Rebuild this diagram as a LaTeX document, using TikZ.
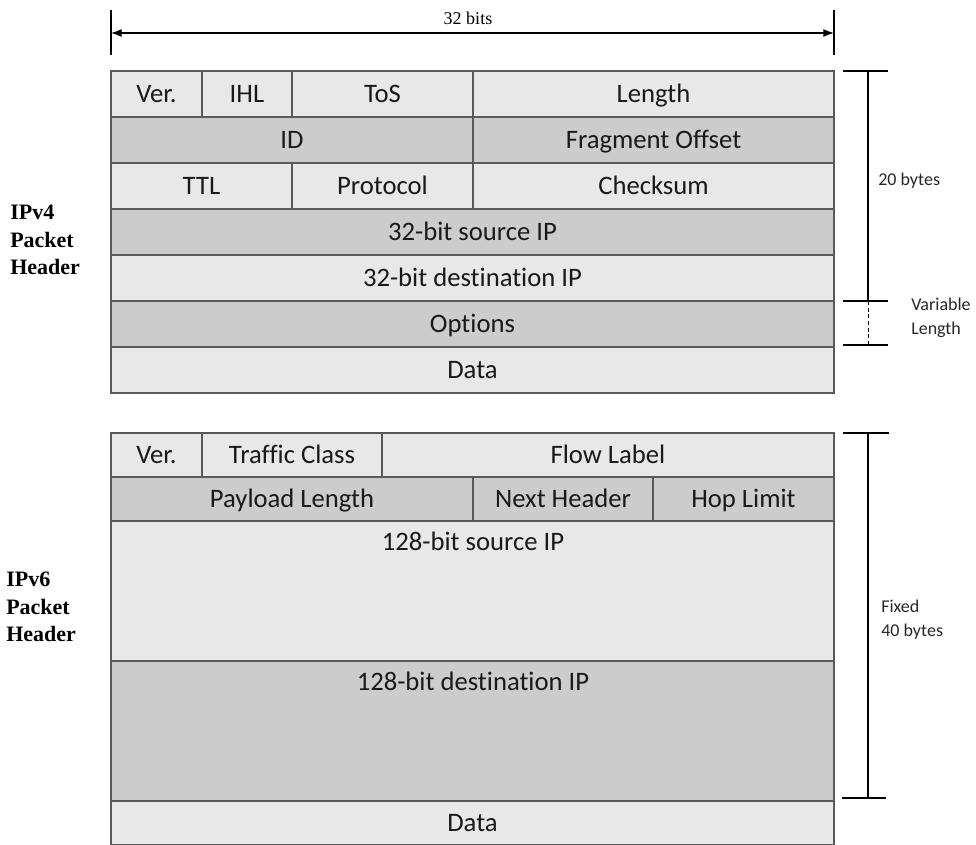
\documentclass[tikz,border=0pt]{standalone}
\usepackage{fontspec}
\setmainfont{Carlito}[Ligatures={NoCommon}]
\newfontfamily\labelserif{Liberation Serif}
\usetikzlibrary{arrows.meta}
\tikzset{
  x=0.75pt, y=-0.75pt,
  cell/.style={draw=black!65, line width=1.1pt, inner sep=0pt, text=black!90,
    font=\fontsize{20}{23}\selectfont, text height=15.5pt, text depth=2.5pt},
  light/.style={fill=black!9},
  dark/.style={fill=black!20},
  dim/.style={line width=0.9pt, draw=black},
  note/.style={font=\fontsize{13.5}{18}\selectfont, text=black!85, align=left, inner sep=0pt},
  side/.style={font=\labelserif\bfseries\fontsize{16.5}{20.5}\selectfont, align=left, inner sep=0pt}
}
% \fieldcell{name}{x1}{y1}{x2}{y2}{shade}{text}
\newcommand{\fieldcell}[7]{%
  \node[cell, #6, minimum width={(#4-#2)*0.75pt}, minimum height={(#5-#3)*0.75pt}]
    (#1) at ({(#2+#4)/2},{(#3+#5)/2}) {#7};}
\begin{document}
\begin{tikzpicture}
\useasboundingbox (0,0) rectangle (976,844);

% ---- IPv4 header ----
\fieldcell{v4ver}{111}{71}{202}{117}{light}{Ver.}
\fieldcell{v4ihl}{202}{71}{292}{117}{light}{IHL}
\fieldcell{v4tos}{292}{71}{473}{117}{light}{ToS}
\fieldcell{v4len}{473}{71}{834}{117}{light}{Length}
\fieldcell{v4id}{111}{117}{473}{163}{dark}{ID}
\fieldcell{v4frag}{473}{117}{834}{163}{dark}{Fragment Offset}
\fieldcell{v4ttl}{111}{163}{292}{209}{light}{TTL}
\fieldcell{v4proto}{292}{163}{473}{209}{light}{Protocol}
\fieldcell{v4sum}{473}{163}{834}{209}{light}{Checksum}
\fieldcell{v4src}{111}{209}{834}{255}{dark}{32-bit source IP}
\fieldcell{v4dst}{111}{255}{834}{301}{light}{32-bit destination IP}
\fieldcell{v4opt}{111}{301}{834}{347}{dark}{Options}
\fieldcell{v4data}{111}{347}{834}{393}{light}{Data}

% ---- IPv6 header ----
\fieldcell{v6ver}{111}{433}{202}{477}{light}{Ver.}
\fieldcell{v6tc}{202}{433}{382}{477}{light}{Traffic Class}
\fieldcell{v6flow}{382}{433}{834}{477}{light}{Flow Label}
\fieldcell{v6plen}{111}{477}{473}{521}{dark}{Payload Length}
\fieldcell{v6next}{473}{477}{653}{521}{dark}{Next Header}
\fieldcell{v6hop}{653}{477}{834}{521}{dark}{Hop Limit}
\fieldcell{v6src}{111}{521}{834}{661}{light}{}
\fieldcell{v6dst}{111}{661}{834}{801}{dark}{}
\fieldcell{v6data}{111}{801}{834}{845}{light}{Data}
\node[cell, draw=none, anchor=center] (v6srctxt) at (473,542) {128-bit source IP};
\node[cell, draw=none, anchor=center] (v6dsttxt) at (473,682) {128-bit destination IP};

% ---- width dimension ----
\coordinate (wl) at (111,33);
\coordinate (wr) at (834,33);
\draw[dim] (111,10) -- (111,55);
\draw[dim] (834,10) -- (834,55);
\draw[dim, {Latex[length=8pt,width=6pt]}-{Latex[length=8pt,width=6pt]}] (wl) -- (wr);
\node[font=\labelserif\fontsize{13.5}{16}\selectfont, inner sep=0pt] (wlabel) at (468,18) {32 bits};

% ---- IPv4 length markers ----
\coordinate (a1) at (868,71);
\coordinate (a2) at (868,301);
\coordinate (a3) at (868,345);
\draw[dim] (843,71) -- (888,71);
\draw[dim] (843,301) -- (888,301);
\draw[dim] (843,345) -- (888,345);
\draw[dim] (a1) -- (a2);
\draw[dim, densely dashed, line width=0.6pt] (a2) -- (a3);
\node[note, anchor=west] (fixed20) at (878,181) {20 bytes};
\node[note, anchor=west] (varlen) at (911,318) {Variable\\Length};

% ---- IPv6 length marker ----
\coordinate (b1) at (868,433);
\coordinate (b2) at (868,798);
\draw[dim] (843,433) -- (889,433);
\draw[dim] (842,798) -- (886,798);
\draw[dim] (b1) -- (b2);
\node[note, anchor=west] (fixed40) at (881,620) {Fixed\\40 bytes};

% ---- side labels ----
\node[side, anchor=west] (v4name) at (10,240) {IPv4\\Packet\\Header};
\node[side, anchor=west] (v6name) at (6,607) {IPv6\\Packet\\Header};
\end{tikzpicture}
\end{document}
